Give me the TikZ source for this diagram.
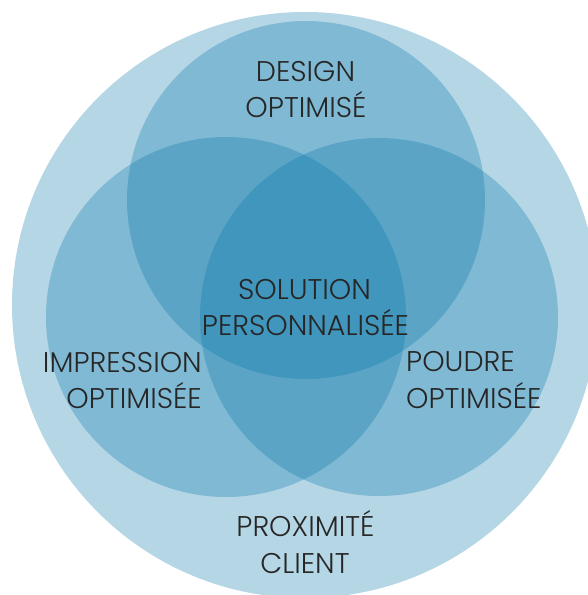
\documentclass[tikz,border=0pt]{standalone}
\usepackage{fontspec}
\setmainfont{Poppins}[UprightFont={* Light}]
\definecolor{disc}{RGB}{0,114,166}
\definecolor{ink}{RGB}{38,38,38}
\begin{document}
\begin{tikzpicture}[x=1pt,y=-1pt,
  zone/.style={fill=disc,fill opacity=0.29,draw=none},
  lbl/.style={text=ink,font=\fontsize{28.5}{28.5}\selectfont,inner sep=0pt,anchor=base}]
\useasboundingbox (0,0) rectangle (588,595);
\clip (0,0) rectangle (588,595);
% outer disc and the three overlapping discs
\fill[zone] (305,305) circle (293);
\fill[zone] (306,200) circle (179);
\fill[zone] (226,317) circle (180);
\fill[zone] (379,317) circle (179);
% labels
\node[lbl] (d1) at (305.5,81) {DESIGN};
\node[lbl] (d2) at (306,117) {OPTIMISÉ};
\node[lbl] (s1) at (304.5,299) {SOLUTION};
\node[lbl] (s2) at (305.5,335) {PERSONNALISÉE};
\node[lbl,anchor=base east] (i1) at (202,372) {IMPRESSION};
\node[lbl,anchor=base east] (i2) at (202,408) {OPTIMISÉE};
\node[lbl,anchor=base west] (p1) at (406,371) {POUDRE};
\node[lbl,anchor=base west] (p2) at (406,408) {OPTIMISÉE};
\node[lbl] (c1) at (305.5,536) {PROXIMITÉ};
\node[lbl] (c2) at (305,573) {CLIENT};
\end{tikzpicture}
\end{document}
